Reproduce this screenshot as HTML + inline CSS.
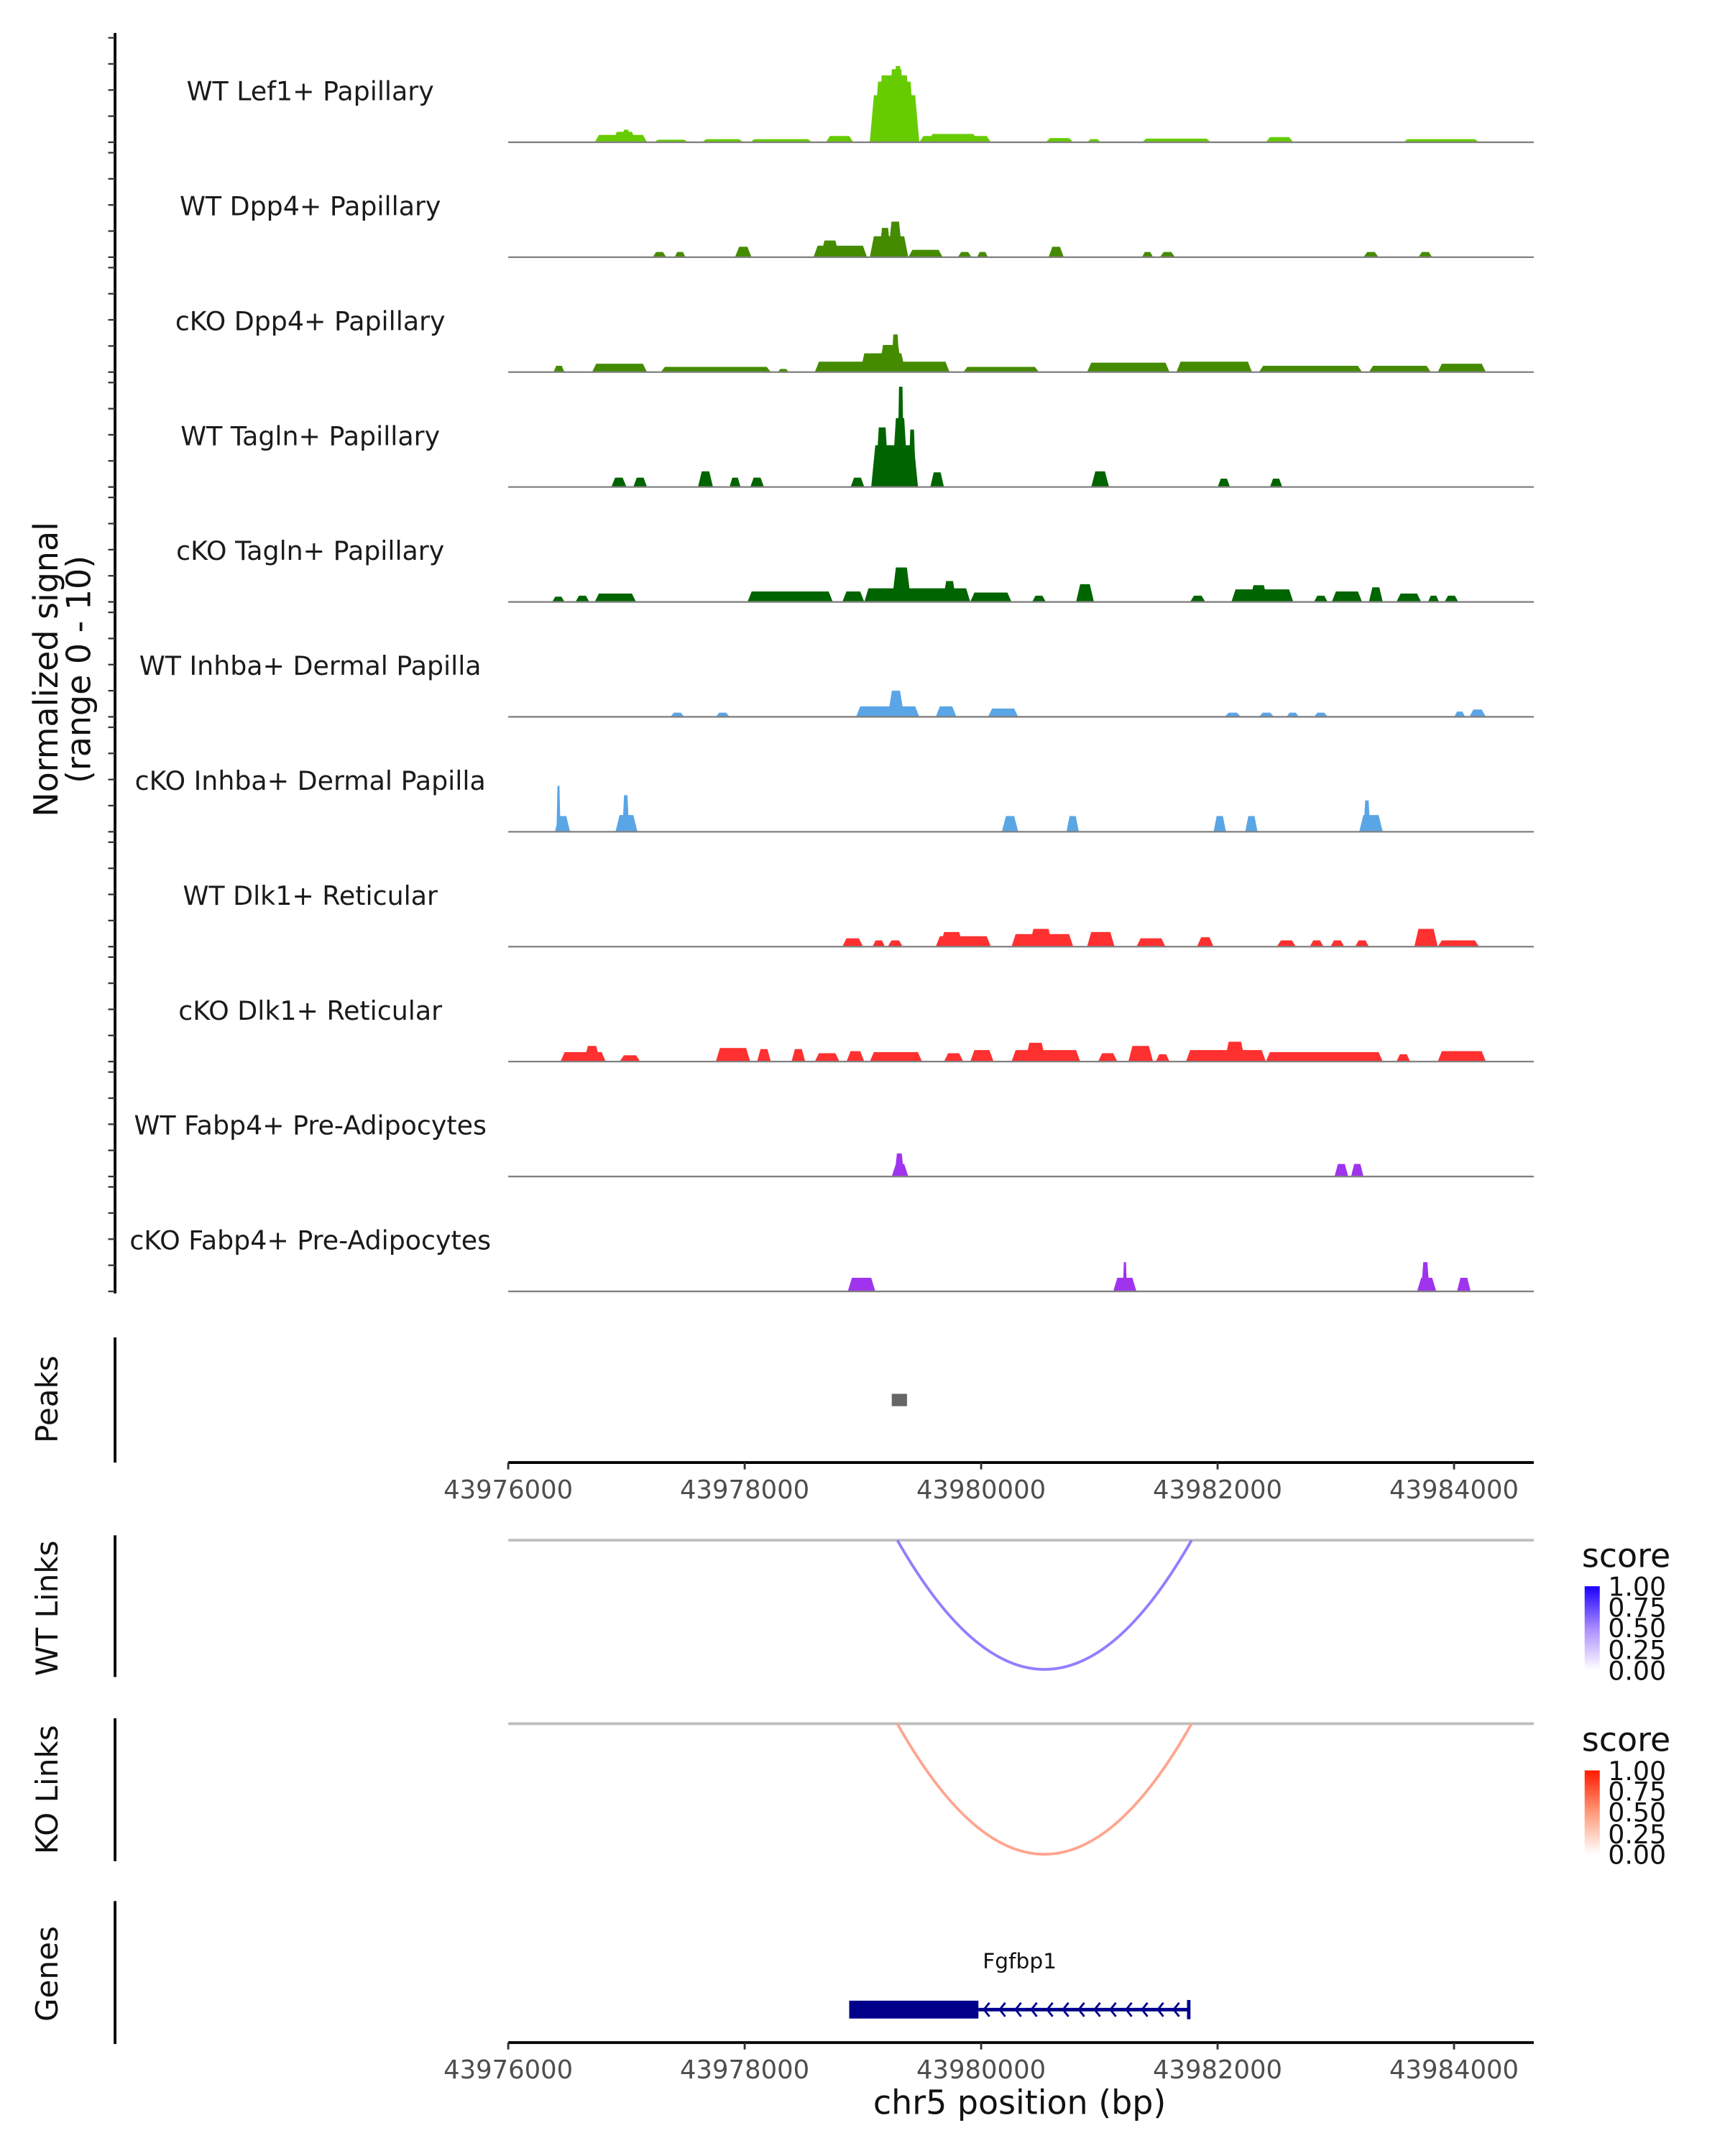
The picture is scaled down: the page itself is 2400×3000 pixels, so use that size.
<!DOCTYPE html>
<html><head><meta charset="utf-8"><style>
html,body{margin:0;padding:0;background:#fff;}
svg{display:block;font-family:"DejaVu Sans","Liberation Sans",sans-serif;}
</style></head><body>
<svg id="chart" width="2400" height="3000" viewBox="-0.7 0 1254.8 1568.5" preserveAspectRatio="none" xmlns="http://www.w3.org/2000/svg">
<defs>
<linearGradient id="gWT" x1="0" y1="1" x2="0" y2="0"><stop offset="0" stop-color="#ffffff"/><stop offset="0.5" stop-color="#a98bff"/><stop offset="1" stop-color="#1a00ff"/></linearGradient>
<linearGradient id="gKO" x1="0" y1="1" x2="0" y2="0"><stop offset="0" stop-color="#ffffff"/><stop offset="0.5" stop-color="#ff9a7a"/><stop offset="1" stop-color="#ff1a00"/></linearGradient>
</defs>
<g id="tracks"></g>
<line x1="83" y1="24" x2="83" y2="941" stroke="#000" stroke-width="2"/>
<g id="yticks"></g>
<text transform="translate(41,487) rotate(-90)" text-anchor="middle" font-size="24" fill="#111">Normalized signal</text>
<text transform="translate(65,487) rotate(-90)" text-anchor="middle" font-size="24" fill="#111">(range 0 - 10)</text>

<line x1="83" y1="973" x2="83" y2="1064" stroke="#000" stroke-width="2"/>
<text transform="translate(41,1018) rotate(-90)" text-anchor="middle" font-size="22" fill="#111">Peaks</text>
<g id="peaks"></g>
<g id="axis1"></g>

<line x1="83" y1="1117" x2="83" y2="1220" stroke="#000" stroke-width="2"/>
<text transform="translate(41,1170) rotate(-90)" text-anchor="middle" font-size="22" fill="#111">WT Links</text>
<line x1="83" y1="1250" x2="83" y2="1354" stroke="#000" stroke-width="2"/>
<text transform="translate(41,1302) rotate(-90)" text-anchor="middle" font-size="22" fill="#111">KO Links</text>
<g id="links"></g>

<g>
<text x="1150" y="1140" font-size="24" fill="#111">score</text>
<rect x="1152" y="1154" width="11" height="61" fill="url(#gWT)"/>
<text x="1169" y="1161" font-size="19" fill="#111">1.00</text><text x="1169" y="1176" font-size="19" fill="#111">0.75</text><text x="1169" y="1191" font-size="19" fill="#111">0.50</text><text x="1169" y="1207" font-size="19" fill="#111">0.25</text><text x="1169" y="1222" font-size="19" fill="#111">0.00</text>
</g>
<g>
<text x="1150" y="1274" font-size="24" fill="#111">score</text>
<rect x="1152" y="1288" width="11" height="61" fill="url(#gKO)"/>
<text x="1169" y="1295" font-size="19" fill="#111">1.00</text><text x="1169" y="1310" font-size="19" fill="#111">0.75</text><text x="1169" y="1325" font-size="19" fill="#111">0.50</text><text x="1169" y="1341" font-size="19" fill="#111">0.25</text><text x="1169" y="1356" font-size="19" fill="#111">0.00</text>
</g>

<line x1="83" y1="1383" x2="83" y2="1487" stroke="#000" stroke-width="2"/>
<text transform="translate(41,1436) rotate(-90)" text-anchor="middle" font-size="22" fill="#111">Genes</text>
<g id="genes"></g>
<g id="axis2"></g>
<text x="741" y="1538" text-anchor="middle" font-size="24" fill="#111">chr5 position (bp)</text>
</svg>
<script>
const trackNames = ["WT Lef1+ Papillary","WT Dpp4+ Papillary","cKO Dpp4+ Papillary","WT Tagln+ Papillary","cKO Tagln+ Papillary","WT Inhba+ Dermal Papilla","cKO Inhba+ Dermal Papilla","WT Dlk1+ Reticular","cKO Dlk1+ Reticular","WT Fabp4+ Pre-Adipocytes","cKO Fabp4+ Pre-Adipocytes"];
const trackColors = ["#66cc00","#458b00","#458b00","#006400","#006400","#5aa5e6","#5aa5e6","#ff3030","#ff3030","#a033ee","#a033ee"];
const lef1WT = [[43976732,43977174,0.7],[43976884,43977081,1.0],[43976961,43977034,1.2],[43977233,43977523,0.25],[43977639,43977988,0.3],[43978047,43978570,0.3],[43978686,43978919,0.6],[43979058,43979477,4.5],[43979093,43979438,5.8],[43979124,43979407,6.4],[43979210,43979360,7.0],[43979260,43979333,7.3],[43979477,43980082,0.6],[43979553,43979971,0.8],[43980547,43980779,0.4],[43980896,43981012,0.3],[43981361,43981942,0.35],[43982408,43982640,0.5],[43983571,43984211,0.3]];
const dpp4WT = [[43977222,43977337,0.5],[43977407,43977500,0.5],[43977918,43978058,1.0],[43978582,43979035,1.1],[43978640,43978802,1.6],[43979058,43979384,2.0],[43979135,43979239,2.8],[43979210,43979337,3.4],[43979384,43979675,0.7],[43979803,43979919,0.5],[43979965,43980058,0.5],[43980570,43980699,1.0],[43981361,43981454,0.5],[43981512,43981640,0.5],[43983234,43983361,0.5],[43983699,43983815,0.5]];
const dpp4KO = [[43976383,43976476,0.6],[43976709,43977174,0.8],[43977290,43978221,0.5],[43978279,43978373,0.3],[43978593,43979733,1.0],[43978977,43979360,1.8],[43979135,43979333,2.6],[43979239,43979312,3.6],[43979384,43979709,0.9],[43979849,43980489,0.5],[43980896,43981594,0.9],[43981652,43982291,1.0],[43982350,43983222,0.6],[43983280,43983803,0.6],[43983862,43984269,0.8]];
const taglnWT = [[43976872,43977000,0.9],[43977058,43977174,0.9],[43977605,43977732,1.5],[43977872,43977965,0.9],[43978047,43978163,0.9],[43978896,43979012,0.9],[43979070,43979466,4.0],[43979105,43979221,5.7],[43979244,43979384,6.6],[43979291,43979349,9.6],[43979385,43979448,5.5],[43979570,43979686,1.4],[43980931,43981082,1.5],[43982001,43982105,0.8],[43982443,43982547,0.8]];
const taglnKO = [[43976372,43976476,0.5],[43976569,43976686,0.6],[43976732,43977081,0.8],[43978024,43978745,1.0],[43978826,43979012,1.0],[43979012,43979908,1.3],[43979244,43979407,3.3],[43979675,43979791,2.0],[43979908,43980257,0.9],[43980431,43980547,0.6],[43980803,43980954,1.7],[43981768,43981896,0.6],[43982117,43982640,1.2],[43982269,43982426,1.6],[43982815,43982931,0.6],[43982966,43983222,1.0],[43983280,43983397,1.4],[43983513,43983722,0.8],[43983780,43983873,0.6],[43983920,43984036,0.6]];
const inhbaWT = [[43977372,43977489,0.4],[43977756,43977872,0.4],[43978942,43979477,1.0],[43979210,43979349,2.5],[43979616,43979791,1.0],[43980058,43980314,0.8],[43982059,43982198,0.4],[43982350,43982477,0.4],[43982583,43982687,0.4],[43982815,43982931,0.4],[43984002,43984094,0.5],[43984129,43984269,0.7]];
const inhbaKO = [[43976395,43976523,1.5],[43976408,43976442,4.4],[43976907,43977093,1.6],[43976965,43977023,3.5],[43980175,43980314,1.5],[43980722,43980826,1.5],[43981966,43982071,1.5],[43982234,43982338,1.5],[43983198,43983397,1.6],[43983234,43983292,3.0]];
const dlk1WT = [[43978826,43979001,0.8],[43979081,43979187,0.6],[43979210,43979337,0.6],[43979616,43980082,1.0],[43979652,43979849,1.4],[43980257,43980779,1.2],[43980407,43980605,1.7],[43980896,43981128,1.4],[43981314,43981559,0.8],[43981826,43981966,0.9],[43982501,43982663,0.6],[43982780,43982896,0.6],[43982955,43983071,0.6],[43983164,43983280,0.6],[43983664,43983862,1.7],[43983862,43984211,0.6]];
const dlk1KO = [[43976442,43976825,0.9],[43976639,43976779,1.5],[43976943,43977116,0.6],[43977756,43978047,1.3],[43978105,43978221,1.2],[43978396,43978512,1.2],[43978593,43978802,0.8],[43978861,43979012,1.0],[43979058,43979500,0.9],[43979686,43979849,0.8],[43979908,43980105,1.1],[43980257,43980838,1.1],[43980373,43980547,1.8],[43980989,43981152,0.8],[43981245,43981454,1.5],[43981477,43981594,0.7],[43981733,43982408,1.1],[43982059,43982234,1.9],[43982408,43983397,0.9],[43983513,43983629,0.7],[43983862,43984269,1.0]];
const fabp4WT = [[43979244,43979384,1.2],[43979267,43979349,2.2],[43982989,43983105,1.2],[43983129,43983234,1.2]];
const fabp4KO = [[43978872,43979105,1.3],[43981117,43981314,1.3],[43981198,43981234,2.8],[43983687,43983850,1.3],[43983722,43983792,2.8],[43984025,43984141,1.3]];
const peakRegions = [[43979244,43979373]];
const xTicks = [43976000,43978000,43980000,43982000,43984000];
const wtLinks = [[43979291,43981780,0.62]];
const koLinks = [[43979291,43981780,0.45]];
const geneName = "Fgfbp1";
const geneStart = 43978884, geneThickEnd = 43979977, geneEnd = 43981756;

const allTracks = [lef1WT,dpp4WT,dpp4KO,taglnWT,taglnKO,inhbaWT,inhbaKO,dlk1WT,dlk1KO,fabp4WT,fabp4KO];
const NS = "http://www.w3.org/2000/svg";
const X0 = 43976000, PX0 = 369, BP_PER_PX = 2000/172, PX1 = 1115;
function xs(bp){ return PX0 + (bp - X0) / BP_PER_PX; }
const UNIT = 7.6;
function baseY(i){ return 103.5 + i * 83.6; }
function ys(i, v){ return baseY(i) - v * UNIT; }
function mk(tag, attrs, parent){ const e = document.createElementNS(NS, tag); for (const k in attrs) e.setAttribute(k, attrs[k]); parent.appendChild(e); return e; }

const tracksG = document.getElementById('tracks');
allTracks.forEach((feat, i) => {
  const g = mk('g', {}, tracksG);
  
  
  const lbl = mk('text', {x: 225, y: baseY(i) - 30.5, 'text-anchor': 'middle', 'font-size': 19, fill: '#1a1a1a'}, g);
  lbl.textContent = trackNames[i];
  
  
  feat.forEach(f => {
    const x1 = xs(f[0]), x2 = xs(f[1]);
    const s = Math.min(3, (x2 - x1) / 4);
    const yb = baseY(i), yt = ys(i, f[2]);
    const p = mk('polygon', {points: `${x1},${yb} ${x1+s},${yt} ${x2-s},${yt} ${x2},${yb}`, fill: trackColors[i]}, g);
    
    
  });
  const bl = mk('line', {x1: PX0, x2: PX1, y1: baseY(i), y2: baseY(i), stroke: '#808080', 'stroke-width': 1.2}, g);
  
  
});

const ytG = document.getElementById('yticks');
for (let i = 0; i < allTracks.length; i++) {
  for (let v = 0; v <= 10; v += 2.5) {
    const t = mk('line', {x1: 78, x2: 83, y1: ys(i, v), y2: ys(i, v), stroke: '#333', 'stroke-width': 1.2}, ytG);
    
    
  }
}

const pkG = document.getElementById('peaks');
peakRegions.forEach(r => {
  const e = mk('rect', {x: xs(r[0]), y: 1014, width: xs(r[1]) - xs(r[0]), height: 9, fill: '#666'}, pkG);
  
  
});

function drawAxis(id, y){
  const g = document.getElementById(id);
  const l = mk('line', {x1: PX0, x2: PX1, y1: y, y2: y, stroke: '#000', 'stroke-width': 2}, g);
  
  
  xTicks.forEach(t => {
    const tk = mk('line', {x1: xs(t), x2: xs(t), y1: y, y2: y + 5, stroke: '#333', 'stroke-width': 1.5}, g);
    
    
    const tl = mk('text', {x: xs(t), y: y + 26, 'text-anchor': 'middle', 'font-size': 18.5, fill: '#4d4d4d'}, g);
    tl.textContent = t;
    
    
  });
}
drawAxis('axis1', 1064);
drawAxis('axis2', 1486);

const lkG = document.getElementById('links');
function mix(a, b, t){ return a.map((c, k) => Math.round(c + (b[k] - c) * t)); }
function drawLinks(links, y0, depth, lo, hi, name){
  const bl = mk('line', {x1: PX0, x2: PX1, y1: y0, y2: y0, stroke: '#bebebe', 'stroke-width': 2}, lkG);
  
  
  links.forEach(l => {
    const a = xs(l[0]), b = xs(l[1]);
    const c = mix(lo, hi, l[2]);
    const p = mk('path', {d: `M${a},${y0} Q${(a+b)/2},${y0 + 2*depth} ${b},${y0}`, fill: 'none', stroke: `rgb(${c.join(',')})`, 'stroke-width': 2}, lkG);
    
    
  });
}
drawLinks(wtLinks, 1120.5, 94, [235,228,255], [96,60,255], 'wt-link');
drawLinks(koLinks, 1254, 95, [255,235,228], [255,80,40], 'ko-link');

const gnG = document.getElementById('genes');
const GY = 1462;
const gl = mk('text', {x: 741, y: 1432, 'text-anchor': 'middle', 'font-size': 15.5, fill: '#111'}, gnG);
gl.textContent = geneName;


const gs = xs(geneStart), gt = xs(geneThickEnd), ge = xs(geneEnd);
const intr = mk('line', {x1: gt, x2: ge, y1: GY, y2: GY, stroke: '#00008b', 'stroke-width': 2.5}, gnG);


const ex = mk('rect', {x: gs, y: GY - 6.5, width: gt - gs, height: 13, fill: '#00008b'}, gnG);


const endT = mk('line', {x1: ge, x2: ge, y1: GY - 7, y2: GY + 7, stroke: '#00008b', 'stroke-width': 2.5}, gnG);


for (let x = gt + 4; x < ge - 4; x += 11.5) {
  const ch = mk('path', {d: `M${x+4},${GY-5} L${x},${GY} L${x+4},${GY+5}`, fill: 'none', stroke: '#00008b', 'stroke-width': 1.5}, gnG);
  
  
}
</script>
</body></html>
